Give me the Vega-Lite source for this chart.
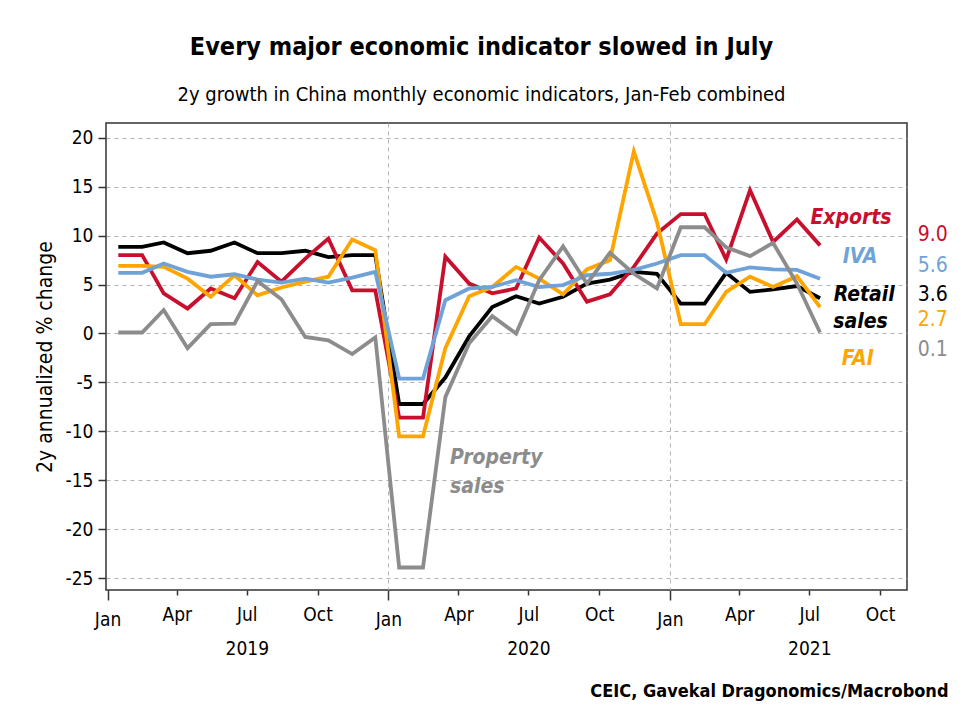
{
  "$schema": "https://vega.github.io/schema/vega-lite/v6.json",
  "autosize": "none",
  "width": 801,
  "height": 467,
  "padding": {"left": 106, "top": 123, "right": 56, "bottom": 125},
  "background": "white",
  "title": {
    "text": "Every major economic indicator slowed in July",
    "subtitle": "2y growth in China monthly economic indicators, Jan-Feb combined",
    "anchor": "middle",
    "dx": -25,
    "offset": 18,
    "fontSize": 25,
    "fontWeight": "bold",
    "subtitleFontSize": 20,
    "subtitlePadding": 25,
    "color": "#000",
    "subtitleColor": "#000",
    "font": "Liberation Sans Narrow, DejaVu Sans Condensed, Roboto Condensed, sans-serif",
    "subtitleFont": "Liberation Sans Narrow, DejaVu Sans Condensed, Roboto Condensed, sans-serif"
  },
  "config": {
    "font": "Liberation Sans Narrow, DejaVu Sans Condensed, Roboto Condensed, sans-serif",
    "view": {"stroke": "#333", "strokeWidth": 1.5},
    "axis": {
      "labelFont": "Liberation Sans Narrow, DejaVu Sans Condensed, Roboto Condensed, sans-serif",
      "titleFont": "Liberation Sans Narrow, DejaVu Sans Condensed, Roboto Condensed, sans-serif",
      "labelFontSize": 19,
      "labelColor": "#000",
      "titleColor": "#000",
      "tickColor": "#333",
      "tickWidth": 1.5,
      "domain": false,
      "gridColor": "#b3b3b3",
      "gridDash": [4, 4],
      "gridWidth": 1
    }
  },
  "datasets": {
    "series": [
      {"date": "2019-01-15", "series": "Retail sales", "value": 8.85},
      {"date": "2019-02-15", "series": "Retail sales", "value": 8.85},
      {"date": "2019-03-15", "series": "Retail sales", "value": 9.3},
      {"date": "2019-04-15", "series": "Retail sales", "value": 8.2},
      {"date": "2019-05-15", "series": "Retail sales", "value": 8.45},
      {"date": "2019-06-15", "series": "Retail sales", "value": 9.3},
      {"date": "2019-07-15", "series": "Retail sales", "value": 8.2},
      {"date": "2019-08-15", "series": "Retail sales", "value": 8.2},
      {"date": "2019-09-15", "series": "Retail sales", "value": 8.45},
      {"date": "2019-10-15", "series": "Retail sales", "value": 7.8},
      {"date": "2019-11-15", "series": "Retail sales", "value": 8.0},
      {"date": "2019-12-15", "series": "Retail sales", "value": 8.0},
      {"date": "2020-01-15", "series": "Retail sales", "value": -7.2},
      {"date": "2020-02-15", "series": "Retail sales", "value": -7.2},
      {"date": "2020-03-15", "series": "Retail sales", "value": -4.5},
      {"date": "2020-04-15", "series": "Retail sales", "value": -0.3},
      {"date": "2020-05-15", "series": "Retail sales", "value": 2.7},
      {"date": "2020-06-15", "series": "Retail sales", "value": 3.8},
      {"date": "2020-07-15", "series": "Retail sales", "value": 3.05},
      {"date": "2020-08-15", "series": "Retail sales", "value": 3.75},
      {"date": "2020-09-15", "series": "Retail sales", "value": 5.1},
      {"date": "2020-10-15", "series": "Retail sales", "value": 5.5},
      {"date": "2020-11-15", "series": "Retail sales", "value": 6.3},
      {"date": "2020-12-15", "series": "Retail sales", "value": 6.1},
      {"date": "2021-01-15", "series": "Retail sales", "value": 3.05},
      {"date": "2021-02-15", "series": "Retail sales", "value": 3.05},
      {"date": "2021-03-15", "series": "Retail sales", "value": 6.2},
      {"date": "2021-04-15", "series": "Retail sales", "value": 4.25},
      {"date": "2021-05-15", "series": "Retail sales", "value": 4.5},
      {"date": "2021-06-15", "series": "Retail sales", "value": 4.85},
      {"date": "2021-07-15", "series": "Retail sales", "value": 3.6},

      {"date": "2019-01-15", "series": "Exports", "value": 8.0},
      {"date": "2019-02-15", "series": "Exports", "value": 8.0},
      {"date": "2019-03-15", "series": "Exports", "value": 4.1},
      {"date": "2019-04-15", "series": "Exports", "value": 2.55},
      {"date": "2019-05-15", "series": "Exports", "value": 4.6},
      {"date": "2019-06-15", "series": "Exports", "value": 3.6},
      {"date": "2019-07-15", "series": "Exports", "value": 7.3},
      {"date": "2019-08-15", "series": "Exports", "value": 5.3},
      {"date": "2019-09-15", "series": "Exports", "value": 7.65},
      {"date": "2019-10-15", "series": "Exports", "value": 9.7},
      {"date": "2019-11-15", "series": "Exports", "value": 4.4},
      {"date": "2019-12-15", "series": "Exports", "value": 4.4},
      {"date": "2020-01-15", "series": "Exports", "value": -8.6},
      {"date": "2020-02-15", "series": "Exports", "value": -8.6},
      {"date": "2020-03-15", "series": "Exports", "value": 7.85},
      {"date": "2020-04-15", "series": "Exports", "value": 5.1},
      {"date": "2020-05-15", "series": "Exports", "value": 4.1},
      {"date": "2020-06-15", "series": "Exports", "value": 4.6},
      {"date": "2020-07-15", "series": "Exports", "value": 9.8},
      {"date": "2020-08-15", "series": "Exports", "value": 7.15},
      {"date": "2020-09-15", "series": "Exports", "value": 3.25},
      {"date": "2020-10-15", "series": "Exports", "value": 4.0},
      {"date": "2020-11-15", "series": "Exports", "value": 6.8},
      {"date": "2020-12-15", "series": "Exports", "value": 10.2},
      {"date": "2021-01-15", "series": "Exports", "value": 12.2},
      {"date": "2021-02-15", "series": "Exports", "value": 12.2},
      {"date": "2021-03-15", "series": "Exports", "value": 7.55},
      {"date": "2021-04-15", "series": "Exports", "value": 14.65},
      {"date": "2021-05-15", "series": "Exports", "value": 9.35},
      {"date": "2021-06-15", "series": "Exports", "value": 11.65},
      {"date": "2021-07-15", "series": "Exports", "value": 9.0},

      {"date": "2019-01-15", "series": "FAI", "value": 6.9},
      {"date": "2019-02-15", "series": "FAI", "value": 6.9},
      {"date": "2019-03-15", "series": "FAI", "value": 6.8},
      {"date": "2019-04-15", "series": "FAI", "value": 5.6},
      {"date": "2019-05-15", "series": "FAI", "value": 3.75},
      {"date": "2019-06-15", "series": "FAI", "value": 5.95},
      {"date": "2019-07-15", "series": "FAI", "value": 3.9},
      {"date": "2019-08-15", "series": "FAI", "value": 4.7},
      {"date": "2019-09-15", "series": "FAI", "value": 5.3},
      {"date": "2019-10-15", "series": "FAI", "value": 5.8},
      {"date": "2019-11-15", "series": "FAI", "value": 9.6},
      {"date": "2019-12-15", "series": "FAI", "value": 8.5},
      {"date": "2020-01-15", "series": "FAI", "value": -10.5},
      {"date": "2020-02-15", "series": "FAI", "value": -10.5},
      {"date": "2020-03-15", "series": "FAI", "value": -1.5},
      {"date": "2020-04-15", "series": "FAI", "value": 3.8},
      {"date": "2020-05-15", "series": "FAI", "value": 4.75},
      {"date": "2020-06-15", "series": "FAI", "value": 6.8},
      {"date": "2020-07-15", "series": "FAI", "value": 5.6},
      {"date": "2020-08-15", "series": "FAI", "value": 4.0},
      {"date": "2020-09-15", "series": "FAI", "value": 6.55},
      {"date": "2020-10-15", "series": "FAI", "value": 7.5},
      {"date": "2020-11-15", "series": "FAI", "value": 18.6},
      {"date": "2020-12-15", "series": "FAI", "value": 11.4},
      {"date": "2021-01-15", "series": "FAI", "value": 0.95},
      {"date": "2021-02-15", "series": "FAI", "value": 0.95},
      {"date": "2021-03-15", "series": "FAI", "value": 4.25},
      {"date": "2021-04-15", "series": "FAI", "value": 5.8},
      {"date": "2021-05-15", "series": "FAI", "value": 4.75},
      {"date": "2021-06-15", "series": "FAI", "value": 5.85},
      {"date": "2021-07-15", "series": "FAI", "value": 2.7},

      {"date": "2019-01-15", "series": "IVA", "value": 6.2},
      {"date": "2019-02-15", "series": "IVA", "value": 6.2},
      {"date": "2019-03-15", "series": "IVA", "value": 7.15},
      {"date": "2019-04-15", "series": "IVA", "value": 6.3},
      {"date": "2019-05-15", "series": "IVA", "value": 5.8},
      {"date": "2019-06-15", "series": "IVA", "value": 6.05},
      {"date": "2019-07-15", "series": "IVA", "value": 5.5},
      {"date": "2019-08-15", "series": "IVA", "value": 5.2},
      {"date": "2019-09-15", "series": "IVA", "value": 5.6},
      {"date": "2019-10-15", "series": "IVA", "value": 5.2},
      {"date": "2019-11-15", "series": "IVA", "value": 5.7},
      {"date": "2019-12-15", "series": "IVA", "value": 6.3},
      {"date": "2020-01-15", "series": "IVA", "value": -4.6},
      {"date": "2020-02-15", "series": "IVA", "value": -4.6},
      {"date": "2020-03-15", "series": "IVA", "value": 3.4},
      {"date": "2020-04-15", "series": "IVA", "value": 4.6},
      {"date": "2020-05-15", "series": "IVA", "value": 4.75},
      {"date": "2020-06-15", "series": "IVA", "value": 5.45},
      {"date": "2020-07-15", "series": "IVA", "value": 4.75},
      {"date": "2020-08-15", "series": "IVA", "value": 4.95},
      {"date": "2020-09-15", "series": "IVA", "value": 5.95},
      {"date": "2020-10-15", "series": "IVA", "value": 6.1},
      {"date": "2020-11-15", "series": "IVA", "value": 6.5},
      {"date": "2020-12-15", "series": "IVA", "value": 7.15},
      {"date": "2021-01-15", "series": "IVA", "value": 8.0},
      {"date": "2021-02-15", "series": "IVA", "value": 8.0},
      {"date": "2021-03-15", "series": "IVA", "value": 6.2},
      {"date": "2021-04-15", "series": "IVA", "value": 6.75},
      {"date": "2021-05-15", "series": "IVA", "value": 6.55},
      {"date": "2021-06-15", "series": "IVA", "value": 6.5},
      {"date": "2021-07-15", "series": "IVA", "value": 5.6},

      {"date": "2019-01-15", "series": "Property sales", "value": 0.1},
      {"date": "2019-02-15", "series": "Property sales", "value": 0.1},
      {"date": "2019-03-15", "series": "Property sales", "value": 2.4},
      {"date": "2019-04-15", "series": "Property sales", "value": -1.5},
      {"date": "2019-05-15", "series": "Property sales", "value": 0.95},
      {"date": "2019-06-15", "series": "Property sales", "value": 1.0},
      {"date": "2019-07-15", "series": "Property sales", "value": 5.35},
      {"date": "2019-08-15", "series": "Property sales", "value": 3.5},
      {"date": "2019-09-15", "series": "Property sales", "value": -0.35},
      {"date": "2019-10-15", "series": "Property sales", "value": -0.7},
      {"date": "2019-11-15", "series": "Property sales", "value": -2.1},
      {"date": "2019-12-15", "series": "Property sales", "value": -0.4},
      {"date": "2020-01-15", "series": "Property sales", "value": -23.9},
      {"date": "2020-02-15", "series": "Property sales", "value": -23.9},
      {"date": "2020-03-15", "series": "Property sales", "value": -6.5},
      {"date": "2020-04-15", "series": "Property sales", "value": -1.0},
      {"date": "2020-05-15", "series": "Property sales", "value": 1.77},
      {"date": "2020-06-15", "series": "Property sales", "value": 0.0},
      {"date": "2020-07-15", "series": "Property sales", "value": 5.45},
      {"date": "2020-08-15", "series": "Property sales", "value": 8.9},
      {"date": "2020-09-15", "series": "Property sales", "value": 5.1},
      {"date": "2020-10-15", "series": "Property sales", "value": 8.25},
      {"date": "2020-11-15", "series": "Property sales", "value": 6.1},
      {"date": "2020-12-15", "series": "Property sales", "value": 4.6},
      {"date": "2021-01-15", "series": "Property sales", "value": 10.85},
      {"date": "2021-02-15", "series": "Property sales", "value": 10.85},
      {"date": "2021-03-15", "series": "Property sales", "value": 8.8},
      {"date": "2021-04-15", "series": "Property sales", "value": 7.9},
      {"date": "2021-05-15", "series": "Property sales", "value": 9.25},
      {"date": "2021-06-15", "series": "Property sales", "value": 5.1},
      {"date": "2021-07-15", "series": "Property sales", "value": 0.1}
    ],
    "notes": [
      {"label": "Exports", "series": "Exports", "kind": "right", "date": "2021-10-16", "value": 11.8},
      {"label": "IVA", "series": "IVA", "kind": "center", "date": "2021-09-05", "value": 7.84},
      {"label": "Retail", "series": "Retail sales", "kind": "right", "date": "2021-10-20", "value": 3.93},
      {"label": "sales", "series": "Retail sales", "kind": "right", "date": "2021-10-11", "value": 1.2},
      {"label": "FAI", "series": "FAI", "kind": "center", "date": "2021-09-02", "value": -2.6},
      {"label": "Property", "series": "Property sales", "kind": "left", "date": "2020-03-21", "value": -12.7},
      {"label": "sales", "series": "Property sales", "kind": "left", "date": "2020-03-21", "value": -15.65},
      {"label": "9.0", "series": "Exports", "kind": "value", "date": "2021-11-19", "value": 10.06},
      {"label": "5.6", "series": "IVA", "kind": "value", "date": "2021-11-19", "value": 6.92},
      {"label": "3.6", "series": "Retail sales", "kind": "value", "date": "2021-11-19", "value": 3.93},
      {"label": "2.7", "series": "FAI", "kind": "value", "date": "2021-11-19", "value": 1.38},
      {"label": "0.1", "series": "Property sales", "kind": "value", "date": "2021-11-19", "value": -1.69}
    ]
  },
  "encoding": {
    "x": {
      "field": "date",
      "type": "temporal",
      "scale": {
        "type": "utc",
        "domain": [
          {"year": 2018, "month": 12, "date": 30, "utc": true},
          {"year": 2021, "month": 11, "date": 5, "utc": true}
        ]
      },
      "axis": {
        "title": "CEIC, Gavekal Dragonomics/Macrobond",
        "titleFontWeight": "bold",
        "titleFontSize": 18,
        "titleAnchor": "end",
        "titleAlign": "right",
        "titleBaseline": "alphabetic",
        "titleX": 842,
        "titleY": 106,
        "tickCount": {"interval": "month", "step": 3},
        "labelExpr": "utcmonth(datum.value) == 6 ? [utcFormat(datum.value, '%b'), utcFormat(datum.value, '%Y')] : utcFormat(datum.value, '%b')",
        "labelLineHeight": 34,
        "labelPadding": 10,
        "labelFlush": false,
        "labelOverlap": false,
        "tickSize": {"condition": {"test": "utcmonth(datum.value) == 0", "value": 10}, "value": 5},
        "grid": true,
        "gridOpacity": {"condition": {"test": "utcmonth(datum.value) == 0 && utcyear(datum.value) > 2019", "value": 1}, "value": 0}
      }
    },
    "y": {
      "field": "value",
      "type": "quantitative",
      "scale": {"domain": [-26.2, 21.5], "nice": false, "zero": false},
      "axis": {
        "title": "2y annualized % change",
        "titleFontSize": 21,
        "titleFontWeight": "normal",
        "titlePadding": 10,
        "values": [-25, -20, -15, -10, -5, 0, 5, 10, 15, 20],
        "labelExpr": "'' + datum.value",
        "tickSize": 8,
        "labelPadding": 5,
        "grid": true
      }
    }
  },
  "layer": [
    {
      "data": {"name": "series"},
      "mark": {"type": "line", "strokeWidth": 3.8, "strokeJoin": "miter"},
      "encoding": {
        "color": {
          "field": "series",
          "type": "nominal",
          "legend": null,
          "scale": {
            "domain": ["Property sales", "IVA", "Exports", "Retail sales", "FAI"],
            "range": ["#8c8c8c", "#6fa3d8", "#c8102e", "#000000", "#ffa500"]
          }
        },
        "order": {"field": "date"}
      }
    },
    {
      "mark": {"type": "rule", "color": "#000", "strokeWidth": 2.5, "strokeDash": [8, 6]},
      "encoding": {"y": {"datum": 0}}
    },
    {
      "data": {"name": "notes"},
      "transform": [{"filter": "datum.kind == 'right'"}],
      "mark": {"type": "text", "align": "right", "baseline": "middle", "fontSize": 21, "fontWeight": "bold", "fontStyle": "italic"},
      "encoding": {"text": {"field": "label"}, "color": {"field": "series", "type": "nominal", "legend": null}}
    },
    {
      "data": {"name": "notes"},
      "transform": [{"filter": "datum.kind == 'center'"}],
      "mark": {"type": "text", "align": "center", "baseline": "middle", "fontSize": 21, "fontWeight": "bold", "fontStyle": "italic"},
      "encoding": {"text": {"field": "label"}, "color": {"field": "series", "type": "nominal", "legend": null}}
    },
    {
      "data": {"name": "notes"},
      "transform": [{"filter": "datum.kind == 'left'"}],
      "mark": {"type": "text", "align": "left", "baseline": "middle", "fontSize": 21, "fontWeight": "bold", "fontStyle": "italic"},
      "encoding": {"text": {"field": "label"}, "color": {"field": "series", "type": "nominal", "legend": null}}
    },
    {
      "data": {"name": "notes"},
      "transform": [{"filter": "datum.kind == 'value'"}],
      "mark": {"type": "text", "align": "left", "baseline": "middle", "fontSize": 21},
      "encoding": {"text": {"field": "label"}, "color": {"field": "series", "type": "nominal", "legend": null}}
    }
  ]
}
